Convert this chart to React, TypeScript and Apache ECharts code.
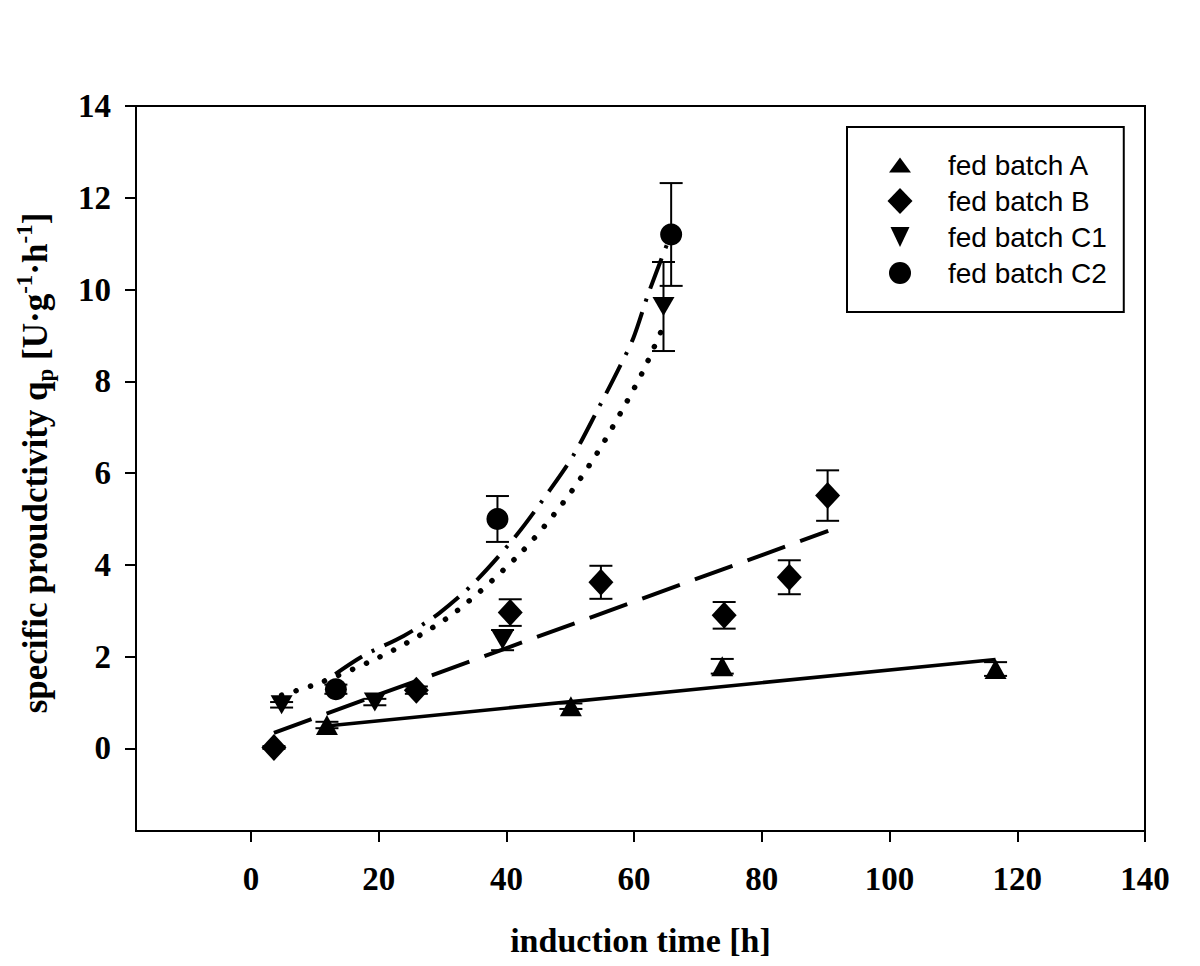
import React, { useEffect, useRef } from 'react';
import * as echarts from 'echarts';

// ---- axis ticks ----
const X_TICKS = [0, 20, 40, 60, 80, 100, 120, 140];
const Y_TICKS = [0, 2, 4, 6, 8, 10, 12, 14];

// ---- measured data (x = induction time [h], y = qp, err = +/-) ----
const aX = [11.9, 50.1, 73.8, 116.6];
const aY = [0.51, 0.92, 1.79, 1.73];
const aErr = [0.07, 0.06, 0.16, 0.15];

const bX = [3.6, 25.9, 40.6, 54.8, 74.1, 84.3, 90.3];
const bY = [0.02, 1.27, 2.96, 3.62, 2.9, 3.73, 5.51];
const bErr = [0.03, 0.08, 0.29, 0.36, 0.29, 0.37, 0.55];

const c1X = [4.8, 19.4, 39.4, 64.6];
const c1Y = [0.95, 1.01, 2.36, 9.63];
const c1Err = [0.06, 0.07, 0.22, 0.97];

const c2X = [13.3, 38.6, 65.8];
const c2Y = [1.29, 5.0, 11.2];
const c2Err = [0.1, 0.5, 1.12];

// ---- fitted curves ----
const fitAX = [11.85, 116.6];
const fitAY = [0.49, 1.94];
const fitBX = [3.6, 90.4];
const fitBY = [0.34, 4.74];
const fitC1X = [4.8, 10.8, 18.6, 24.4, 32.2, 42.1, 48.7, 54.1, 58.6, 61.5, 64.3];
const fitC1Y = [1.16, 1.43, 1.89, 2.3, 2.99, 4.24, 5.32, 6.41, 7.49, 8.25, 9.11];
const fitC2X = [13.2, 17.6, 23.9, 29.5, 35.1, 41.6, 46.8, 50.5, 54.4, 57.5, 59.9, 62.2, 65.3];
const fitC2Y = [1.62, 2.02, 2.45, 2.95, 3.63, 4.65, 5.63, 6.39, 7.41, 8.25, 8.95, 9.9, 11.04];

const NAMES = ['fed batch A', 'fed batch B', 'fed batch C1', 'fed batch C2'];

const ICON_A = 'path://M0,0M26,26M2,20.5L13,5.5L24,20.5Z';
const ICON_B = 'path://M0,0M26,26M13,0L25.5,13L13,26L0.5,13Z';
const ICON_C1 = 'path://M0,0M26,26M3.5,3L22.5,3L13,23Z';
const ICON_C2 = 'path://M0,0M26,26M2,13A11,11,0,1,1,24,13A11,11,0,1,1,2,13Z';

const zip = (xs: number[], ys: number[]) => xs.map((x, i) => [x, ys[i]]);

function errorSeries(name: string, xs: number[], ys: number[], errs: number[]) {
  return {
    type: 'custom',
    name: name + ' error',
    z: 3,
    data: xs.map((x, i) => [x, ys[i] - errs[i], ys[i] + errs[i]]),
    encode: { x: 0, y: [1, 2] },
    renderItem: (_params: any, api: any) => {
      const lo = api.coord([api.value(0), api.value(1)]);
      const hi = api.coord([api.value(0), api.value(2)]);
      const hw = 11.5;
      const style = { stroke: '#000', lineWidth: 2 };
      return {
        type: 'group',
        children: [
          { type: 'line', shape: { x1: lo[0], y1: lo[1], x2: hi[0], y2: hi[1] }, style },
          { type: 'line', shape: { x1: lo[0] - hw, y1: lo[1], x2: lo[0] + hw, y2: lo[1] }, style },
          { type: 'line', shape: { x1: hi[0] - hw, y1: hi[1], x2: hi[0] + hw, y2: hi[1] }, style },
        ],
      };
    },
  };
}

function scatterSeries(name: string, xs: number[], ys: number[], symbol: string, size: any, rotate = 0) {
  return {
    type: 'scatter',
    name,
    z: 4,
    symbol,
    symbolSize: size,
    symbolRotate: rotate,
    itemStyle: { color: '#000', opacity: 1 },
    data: zip(xs, ys),
  };
}

function fitSeries(name: string, xs: number[], ys: number[], lineStyle: any, smooth: boolean) {
  return {
    type: 'line',
    name,
    z: 2,
    symbol: 'none',
    smooth: smooth ? 0.3 : false,
    lineStyle: { color: '#000', ...lineStyle },
    data: zip(xs, ys),
  };
}

const SERIF = "'Liberation Serif', 'Times New Roman', serif";
const SANS = "'Liberation Sans', Arial, sans-serif";

export default function App() {
  const ref = useRef<HTMLDivElement>(null);
  useEffect(() => {
    if (!ref.current) return;
    const chart = echarts.init(ref.current, undefined, { renderer: 'svg' });
    const option: any = {
      animation: false,
      backgroundColor: '#fff',
      grid: {
        left: 136,
        top: 106,
        right: 55,
        bottom: 135,
        show: true,
        borderColor: '#000',
        borderWidth: 2,
        backgroundColor: 'transparent',
        outerBoundsMode: 'none',
      },
      xAxis: {
        type: 'value',
        min: -18,
        max: 140,
        name: 'induction time [h]',
        nameLocation: 'middle',
        nameGap: 92,
        nameTextStyle: { fontFamily: SERIF, fontWeight: 'bold', fontSize: 34, color: '#000' },
        axisLine: { show: true, onZero: false, lineStyle: { color: '#000', width: 2 } },
        axisTick: { show: true, inside: false, length: 11, lineStyle: { color: '#000', width: 2 }, customValues: X_TICKS },
        axisLabel: { fontFamily: SERIF, fontWeight: 'bold', fontSize: 33, color: '#000', margin: 31, customValues: X_TICKS },
        splitLine: { show: false },
      },
      yAxis: {
        type: 'value',
        min: -1.8,
        max: 14,
        axisLine: { show: true, onZero: false, lineStyle: { color: '#000', width: 2 } },
        axisTick: { show: true, inside: false, length: 11, lineStyle: { color: '#000', width: 2 }, customValues: Y_TICKS },
        axisLabel: { fontFamily: SERIF, fontWeight: 'bold', fontSize: 33, color: '#000', margin: 25, customValues: Y_TICKS },
        splitLine: { show: false },
      },
      legend: {
        orient: 'vertical',
        left: 847,
        top: 127,
        selectedMode: false,
        itemWidth: 26,
        itemHeight: 26,
        itemGap: 0,
        borderColor: '#000',
        borderWidth: 2,
        padding: [20, 17, 21, 40],
        textStyle: { fontFamily: SANS, fontSize: 28, color: '#000', lineHeight: 36, padding: [0, 0, 0, 30] },
        data: [
          { name: NAMES[0], icon: ICON_A },
          { name: NAMES[1], icon: ICON_B },
          { name: NAMES[2], icon: ICON_C1 },
          { name: NAMES[3], icon: ICON_C2 },
        ],
      },
      graphic: [
        {
          type: 'text',
          x: 35,
          y: 463,
          rotation: Math.PI / 2,
          style: {
            text: '{m|specific proudctivity q}{sub|p}{m| [U·g}{sup|-1}{m|·h}{sup|-1}{m|]}',
            align: 'center',
            verticalAlign: 'middle',
            fill: '#000',
            rich: {
              m: { fontFamily: SERIF, fontWeight: 'bold', fontSize: 35, lineHeight: 44, fill: '#000' },
              sub: { fontFamily: SERIF, fontWeight: 'bold', fontSize: 23, lineHeight: 20, verticalAlign: 'bottom', fill: '#000' },
              sup: { fontFamily: SERIF, fontWeight: 'bold', fontSize: 23, lineHeight: 20, verticalAlign: 'top', fill: '#000' },
            },
          },
        },
      ],
      series: [
        fitSeries('fit A', fitAX, fitAY, { type: 'solid', width: 3.5 }, false),
        fitSeries('fit B', fitBX, fitBY, { type: [40, 16], width: 4 }, false),
        fitSeries('fit C1', fitC1X, fitC1Y, { type: [0.1, 15], width: 5.5, cap: 'round' }, true),
        fitSeries('fit C2', fitC2X, fitC2Y, { type: [32, 11, 3, 11], width: 4 }, true),
        errorSeries(NAMES[0], aX, aY, aErr),
        errorSeries(NAMES[1], bX, bY, bErr),
        errorSeries(NAMES[2], c1X, c1Y, c1Err),
        errorSeries(NAMES[3], c2X, c2Y, c2Err),
        scatterSeries(NAMES[0], aX, aY, 'triangle', [22, 20]),
        scatterSeries(NAMES[1], bX, bY, 'diamond', [25, 27]),
        scatterSeries(NAMES[2], c1X, c1Y, 'triangle', [22, 19], 180),
        scatterSeries(NAMES[3], c2X, c2Y, 'circle', 22),
      ],
    };
    chart.setOption(option);
    return () => chart.dispose();
  }, []);
  return <div ref={ref} style={{ width: 1200, height: 966, position: 'absolute', left: 0, top: 0 }} />;
}
